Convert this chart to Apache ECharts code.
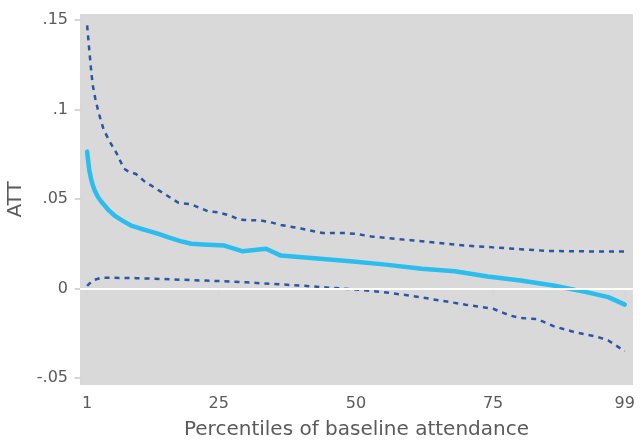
<!DOCTYPE html>
<html><head><meta charset="utf-8">
<script src="https://cdn.jsdelivr.net/npm/echarts@6/dist/echarts.min.js"></script>
<style>html,body{margin:0;padding:0;background:#fff}#c{width:641px;height:444px}</style>
</head><body><div id="c"></div>
<script>
const xTicks = [1, 25, 50, 75, 99];
const yTicks = [-0.05, 0, 0.05, 0.1, 0.15];
const yTickLabels = ['-.05', '0', '.05', '.1', '.15'];

const attX = [1,1.2,1.4,1.7,2,2.4,3,3.6,4.2,5,6,7.5,9,10.5,12,14,15.7,18,20,22,26,29.4,33.6,36.3,49,55,62,68,74,80,86,92,96,99];
const attY = [0.0765,0.071,0.066,0.0615,0.058,0.0547,0.051,0.0485,0.0464,0.0435,0.0408,0.0378,0.0352,0.0337,0.0324,0.0305,0.0287,0.0265,0.025,0.0246,0.024,0.0208,0.0222,0.0184,0.0153,0.0135,0.011,0.0097,0.0067,0.0045,0.0017,-0.002,-0.0048,-0.009];

const upX = [1,1.2,1.4,1.7,2,2.5,3,3.5,4,5,6.3,7.7,8.5,9.9,11.4,14.5,17.6,20,23,25,27,28.7,32.7,34.5,36.3,40,44,48,50,53,60,65,70,75,80,85,90,95,99];
const upY = [0.147,0.140,0.133,0.123,0.114,0.106,0.0994,0.094,0.089,0.0827,0.076,0.067,0.0655,0.064,0.060,0.054,0.048,0.047,0.0432,0.0425,0.0408,0.0385,0.038,0.037,0.0355,0.0335,0.031,0.031,0.0305,0.029,0.027,0.0255,0.024,0.023,0.022,0.021,0.0208,0.0207,0.0207];

const loX = [1,2,3.5,6,10,15,20,25,30,35,40,45,50,55,60,65,70,75,78,80,83,86,90,94,96,99];
const loY = [0.0015,0.0045,0.006,0.006,0.0058,0.0053,0.0047,0.0042,0.0035,0.0025,0.0017,0.0005,-0.0005,-0.002,-0.004,-0.0065,-0.009,-0.0113,-0.015,-0.0165,-0.017,-0.021,-0.0245,-0.027,-0.029,-0.035];

const zip = (a, b) => a.map((v, i) => [v, b[i]]);
const font = '"DejaVu Sans", sans-serif';
const txt = '#5a5a5a';
const chart = echarts.init(document.getElementById('c'));
chart.setOption({
  animation: false,
  grid: { left: 80, right: 8, top: 14, bottom: 59, show: true, backgroundColor: '#d9d9d9', borderWidth: 0, outerBoundsMode: 'none' },
  xAxis: {
    type: 'value', min: -0.3, max: 100.5,
    name: 'Percentiles of baseline attendance', nameLocation: 'middle', nameGap: 35,
    nameTextStyle: { color: txt, fontSize: 20, fontFamily: font, verticalAlign: 'top' },
    axisLine: { show: false },
    axisTick: { show: true, customValues: xTicks, length: 7, lineStyle: { color: '#d6d6d6', width: 2 } },
    axisLabel: { customValues: xTicks, color: txt, fontSize: 16, fontFamily: font, margin: 11 },
    splitLine: { show: false }
  },
  yAxis: {
    type: 'value', min: -0.0539, max: 0.1534,
    name: 'ATT', nameLocation: 'middle', nameGap: 47,
    nameTextStyle: { color: txt, fontSize: 20, fontFamily: font },
    axisLine: { show: false },
    axisTick: { show: true, customValues: yTicks, length: 7, lineStyle: { color: '#d6d6d6', width: 2 } },
    axisLabel: { customValues: yTicks, color: txt, fontSize: 16, fontFamily: font, margin: 12,
      formatter: v => { const i = yTicks.findIndex(t => Math.abs(t - v) < 1e-9); return i >= 0 ? yTickLabels[i] : ''; } },
    splitLine: { show: false }
  },
  series: [
    { type: 'line', data: zip(upX, upY), showSymbol: false,
      lineStyle: { color: '#2a56a3', width: 2.5, type: [5, 5] }, z: 3 },
    { type: 'line', data: zip(loX, loY), showSymbol: false,
      lineStyle: { color: '#2a56a3', width: 2.5, type: [5, 5] }, z: 3 },
    { type: 'line', data: zip(attX, attY), showSymbol: false, smooth: false,
      lineStyle: { color: '#2bbdee', width: 4.5, cap: 'round', join: 'round' }, z: 4,
      markLine: { silent: true, symbol: 'none', label: { show: false },
        lineStyle: { color: '#ffffff', width: 2, type: 'solid' }, data: [{ yAxis: 0 }] } }
  ]
});
</script></body></html>
